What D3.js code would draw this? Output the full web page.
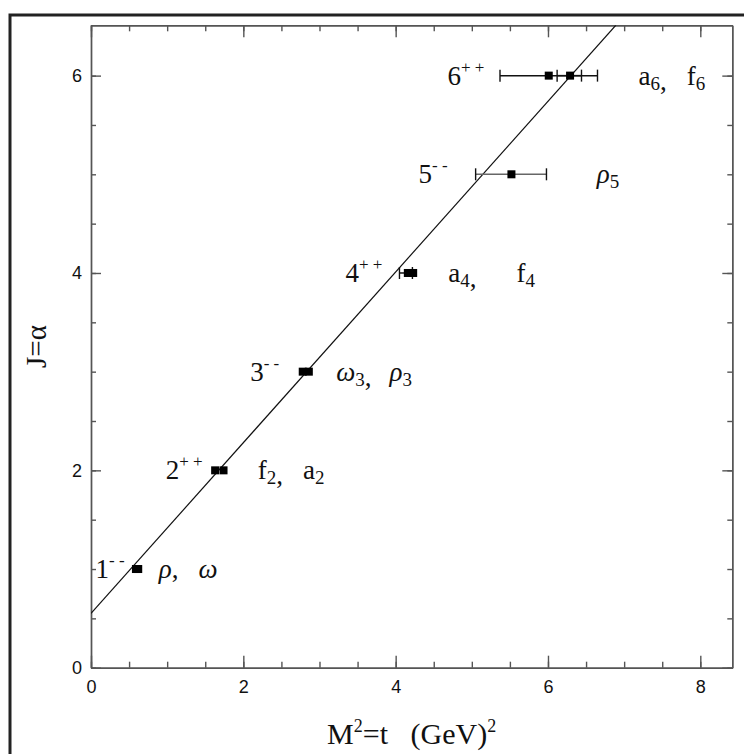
<!DOCTYPE html>
<html>
<head>
<meta charset="utf-8">
<script src="https://cdn.jsdelivr.net/npm/d3@7"></script>
<style>
  body { margin: 0; background: #fff; }
  svg { display: block; }
</style>
</head>
<body>
<div id="container"></div>
<script>
// Rozměry obrázku
const width = 744;
const height = 754;

// Okraje grafu (px)
const marginLeft = 91;
const marginRight = 11;
const marginTop = 25;
const marginBottom = 86;

// Data: mezony na Reggeho trajektorii
const states = ["rho", "omega", "f2", "a2", "omega3", "rho3", "a4", "f4", "rho5", "a6", "f6"];
const spin = [1, 1, 2, 2, 3, 3, 4, 4, 5, 6, 6];
const mass2 = [0.59, 0.62, 1.63, 1.74, 2.78, 2.86, 4.16, 4.23, 5.52, 6.01, 6.29];
const errLow = [null, null, null, null, null, null, 4.05, null, 5.05, 5.37, 6.12];
const errHigh = [null, null, null, null, null, null, 4.22, null, 5.98, 6.65, 6.44];

// Přímka alpha(t) = a0 + a1 * t
const intercept = 0.55;
const slope = 0.865;

// Popisky řádků (J^PC a názvy částic)
const jRows = [1, 2, 3, 4, 5, 6];
const jpcSigns = ["- -", "+ +", "- -", "+ +", "- -", "+ +"];
const names = [
  [["ρ", ""], ["ω", ""]],
  [["f", "2"], ["a", "2"]],
  [["ω", "3"], ["ρ", "3"]],
  [["a", "4"], ["f", "4"]],
  [["ρ", "5"]],
  [["a", "6"], ["f", "6"]]
];

// Osy - ticky
const xMajor = [0, 2, 4, 6, 8];
const xMinor = d3.range(0, 8.5, 0.5);
const yMajor = [0, 2, 4, 6];
const yMinor = d3.range(0, 6.5, 0.5);

// Pozice popisků (v datových souřadnicích)
const jpcAt = [0.06, 0.98, 2.09, 3.34, 4.30, 4.68];
const nameAt = [0.89, 2.19, 3.22, 4.69, 6.64, 7.19];
const nameGap = [20, 20, 18, 40, 0, 20];

const x = d3.scaleLinear().domain([0, 8.42]).range([marginLeft, width - marginRight - 0.7]);
const y = d3.scaleLinear().domain([0, 6.51]).range([height - marginBottom - 0.3, marginTop + 0.3]);

const svg = d3.create("svg")
    .attr("width", width)
    .attr("height", height);

// Vnější rámeček
svg.append("rect")
    .attr("x", 10).attr("y", 15)
    .attr("width", 800).attr("height", 800)
    .attr("fill", "none")
    .attr("stroke", "#222")
    .attr("stroke-width", 3);

svg.append("clipPath").attr("id", "plot")
  .append("rect")
    .attr("x", x(0)).attr("y", y(6.51))
    .attr("width", x(8.42) - x(0)).attr("height", y(0) - y(6.51));

// Osy
const axisColor = "#555";
function styleAxis(g) {
  g.attr("font-size", 18).attr("font-family", "'Liberation Sans', Arial, sans-serif");
  g.selectAll("path, line").attr("stroke", axisColor).attr("stroke-width", 1.4);
  g.selectAll("text").attr("fill", "#111");
}

const yBottom = y(0), yTop = y(6.51), xLeft = x(0), xRight = x(8.42);

svg.append("g").attr("transform", `translate(0,${yBottom})`)
    .call(d3.axisBottom(x).tickValues(xMinor).tickSize(-6).tickSizeOuter(0).tickFormat(""))
    .call(styleAxis);
svg.append("g").attr("transform", `translate(0,${yBottom})`)
    .call(d3.axisBottom(x).tickValues(xMajor).tickSize(-12).tickSizeOuter(0).tickPadding(13).tickFormat(d3.format("d")))
    .call(styleAxis);
svg.append("g").attr("transform", `translate(0,${yTop})`)
    .call(d3.axisTop(x).tickValues(xMinor).tickSize(-6).tickSizeOuter(0).tickFormat(""))
    .call(styleAxis);
svg.append("g").attr("transform", `translate(0,${yTop})`)
    .call(d3.axisTop(x).tickValues(xMajor).tickSize(-12).tickSizeOuter(0).tickFormat(""))
    .call(styleAxis);

svg.append("g").attr("transform", `translate(${xLeft},0)`)
    .call(d3.axisLeft(y).tickValues(yMinor).tickSize(-5).tickSizeOuter(0).tickFormat(""))
    .call(styleAxis);
svg.append("g").attr("transform", `translate(${xLeft},0)`)
    .call(d3.axisLeft(y).tickValues(yMajor).tickSize(-10).tickSizeOuter(0).tickPadding(9).tickFormat(d3.format("d")))
    .call(styleAxis);
svg.append("g").attr("transform", `translate(${xRight},0)`)
    .call(d3.axisRight(y).tickValues(yMinor).tickSize(-5).tickSizeOuter(0).tickFormat(""))
    .call(styleAxis);
svg.append("g").attr("transform", `translate(${xRight},0)`)
    .call(d3.axisRight(y).tickValues(yMajor).tickSize(-10).tickSizeOuter(0).tickFormat(""))
    .call(styleAxis);

// Reggeho přímka
const tEnd = (6.51 - intercept) / slope;
svg.append("path")
    .datum([0, tEnd])
    .attr("clip-path", "url(#plot)")
    .attr("fill", "none")
    .attr("stroke", "#111")
    .attr("stroke-width", 1.2)
    .attr("d", d3.line().x(t => x(t)).y(t => y(intercept + slope * t)));

// Chybové úsečky
const idx = d3.range(states.length);
const bars = svg.append("g");
idx.filter(i => errLow[i] != null).forEach(i => {
  const col = states[i] === "rho5" ? "#666" : "#111";
  const yy = y(spin[i]);
  bars.append("line")
      .attr("x1", x(errLow[i])).attr("x2", x(errHigh[i]))
      .attr("y1", yy).attr("y2", yy)
      .attr("stroke", col).attr("stroke-width", 1.5);
  [errLow[i], errHigh[i]].forEach(v => {
    bars.append("line")
        .attr("x1", x(v)).attr("x2", x(v))
        .attr("y1", yy - 6).attr("y2", yy + 6)
        .attr("stroke", "#111").attr("stroke-width", 1.4);
  });
});

// Body
svg.append("g").selectAll("rect")
  .data(idx)
  .join("rect")
    .attr("x", i => x(mass2[i]) - 4)
    .attr("y", i => y(spin[i]) - 4)
    .attr("width", 8)
    .attr("height", 8)
    .attr("fill", "#000");

// Popisky
const serif = "'Liberation Serif', 'Times New Roman', serif";
const labels = svg.append("g")
    .style("font-family", serif)
    .attr("fill", "#111");

jRows.forEach((j, k) => {
  const t = labels.append("text")
      .attr("x", x(jpcAt[k]))
      .attr("y", y(j) + 9)
      .style("font-size", "27px");
  t.append("tspan").text(j);
  t.append("tspan")
      .attr("dy", -12)
      .style("font-size", "17px")
      .text(jpcSigns[k]);

  const n = labels.append("text")
      .attr("x", x(nameAt[k]))
      .attr("y", y(j) + 9)
      .style("font-size", "27px");
  names[k].forEach(([sym, sub], m) => {
    const greek = /[ρω]/.test(sym);
    n.append("tspan")
        .attr("dx", m > 0 ? nameGap[k] : 0)
        .attr("dy", m > 0 && names[k][m - 1][1] ? -5 : 0)
        .style("font-style", greek ? "italic" : "normal")
        .text(sym);
    if (sub) {
      n.append("tspan").attr("dy", 5).style("font-size", "19px").text(sub);
    }
    if (m < names[k].length - 1) {
      n.append("tspan").text(",");
    }
  });
});

// Názvy os
svg.append("text")
    .attr("transform", `translate(46,${(yTop + yBottom) / 2}) rotate(-90)`)
    .attr("text-anchor", "middle")
    .style("font-family", serif)
    .style("font-size", "29px")
    .attr("fill", "#111")
    .text("J=α");

const xl = svg.append("text")
    .attr("x", (xLeft + xRight) / 2)
    .attr("y", 744)
    .attr("text-anchor", "middle")
    .style("font-family", serif)
    .style("font-size", "30px")
    .attr("fill", "#111");
xl.append("tspan").text("M");
xl.append("tspan").attr("dy", -12).style("font-size", "18px").text("2");
xl.append("tspan").attr("dy", 12).text("=t\u00a0\u00a0\u00a0(GeV)");
xl.append("tspan").attr("dy", -12).style("font-size", "18px").text("2");

container.append(svg.node());
</script>
</body>
</html>
